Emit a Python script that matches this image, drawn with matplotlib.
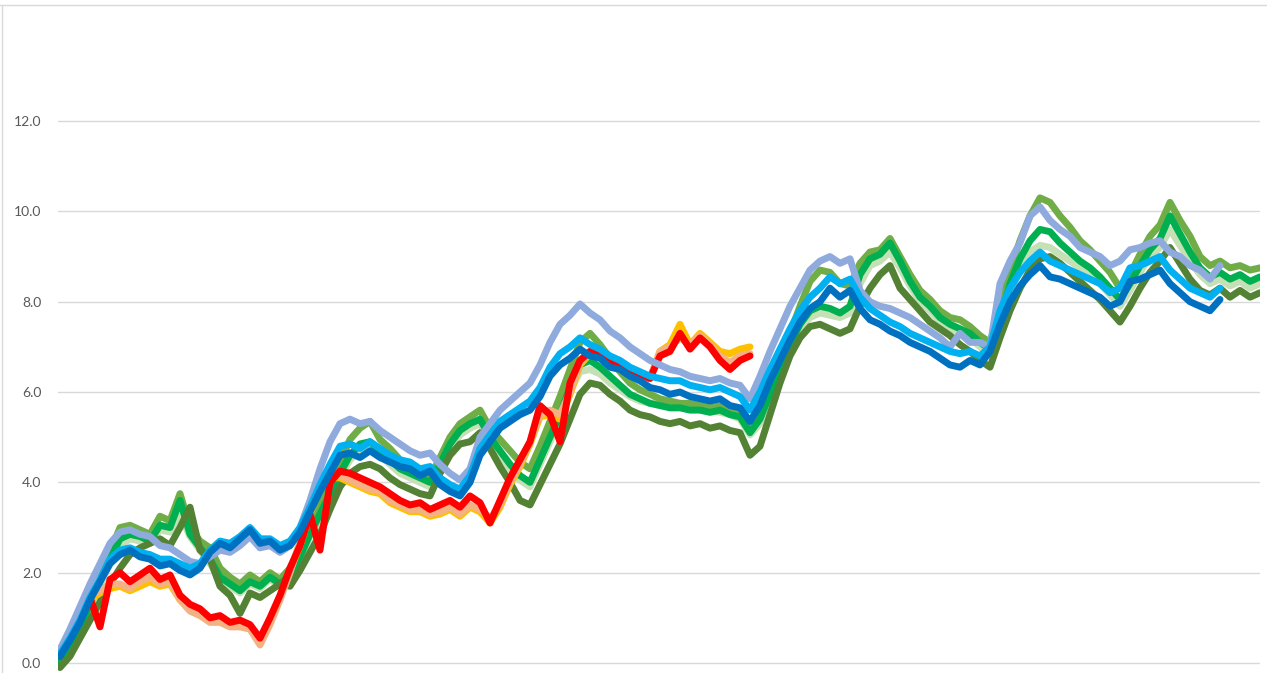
import matplotlib.pyplot as plt
import numpy as np

# values, one sample every 10 px along the time axis
gold = [0.2, 0.6, 1.0, 1.4, 1.55, 1.65, 1.7, 1.6, 1.7, 1.8, 1.7, 1.75, 1.4, 1.2, 1.1, 0.95, 0.95, 0.85, 0.85, 0.8,
        0.5, 0.9, 1.45, 2.05, 2.6, 3.3, 3.9, 4.1, 4.1, 4.0, 3.9, 3.8, 3.75, 3.55, 3.45, 3.35, 3.35, 3.25, 3.3, 3.4,
        3.25, 3.45, 3.35, 3.1, 3.45, 3.95, 4.35, 4.85, 5.45, 5.5, 5.4, 5.95, 6.6, 6.85, 6.75, 6.65, 6.5, 6.45, 6.35, 6.3,
        6.9, 7.05, 7.5, 7.05, 7.3, 7.1, 6.9, 6.85, 6.95, 7.0]
peach = [0.25, 0.65, 1.05, 1.5, 1.6, 1.75, 1.75, 1.65, 1.8, 1.9, 1.75, 1.8, 1.4, 1.15, 1.05, 0.9, 0.9, 0.8, 0.8, 0.75,
         0.4, 0.85, 1.4, 2.0, 2.7, 3.4, 4.0, 4.2, 4.15, 4.05, 3.95, 3.85, 3.8, 3.6, 3.5, 3.4, 3.4, 3.3, 3.35, 3.45,
         3.3, 3.5, 3.4, 3.2, 3.5, 4.0, 4.4, 4.9, 5.5, 5.6, 5.5, 6.0, 6.65, 6.9, 6.8, 6.7, 6.55, 6.45, 6.35, 6.3,
         6.9, 7.0, 7.2, 7.05, 7.25, 7.05, 6.8, 6.65, 6.8, 6.85]
red = [0.15, 0.55, 0.95, 1.45, 0.8, 1.85, 2.0, 1.8, 1.95, 2.1, 1.85, 1.95, 1.5, 1.3, 1.2, 1.0, 1.05, 0.9, 0.95, 0.85,
       0.55, 1.0, 1.5, 2.1, 2.6, 3.3, 2.5, 4.0, 4.25, 4.2, 4.1, 4.0, 3.9, 3.75, 3.6, 3.5, 3.55, 3.4, 3.5, 3.6,
       3.45, 3.7, 3.55, 3.1, 3.6, 4.1, 4.5, 4.9, 5.7, 5.5, 4.9, 6.2, 6.7, 6.9, 6.8, 6.7, 6.6, 6.5, 6.4, 6.3,
       6.8, 6.9, 7.3, 6.95, 7.2, 7.0, 6.7, 6.5, 6.7, 6.8]

light_green = [0.0, 0.35, 0.75, 1.2, 1.7, 2.2, 2.6, 2.75, 2.7, 2.65, 2.95, 2.9, 3.3, 2.8, 2.5, 2.2, 1.85, 1.7, 1.55, 1.75,
               1.65, 1.85, 1.7, 1.9, 2.3, 2.8, 3.2, 3.65, 4.1, 4.5, 4.7, 4.75, 4.6, 4.4, 4.2, 4.1, 4.0, 3.9, 4.3, 4.75,
               5.05, 5.2, 5.3, 4.9, 4.6, 4.3, 4.05, 3.9, 4.4, 4.9, 5.4, 6.0, 6.45, 6.5, 6.4, 6.2, 6.05, 5.9, 5.8, 5.75,
               5.8, 5.7, 5.7, 5.65, 5.6, 5.6, 5.55, 5.5, 5.4, 5.05, 5.3, 5.85, 6.4, 6.95, 7.4, 7.65, 7.75, 7.7, 7.65, 7.75,
               8.4, 8.8, 8.9, 9.1, 8.75, 8.35, 8.0, 7.8, 7.55, 7.4, 7.3, 7.2, 7.0, 6.85, 7.5, 8.2, 8.75, 9.1, 9.25, 9.2,
               9.05, 8.9, 8.75, 8.6, 8.4, 8.15, 7.9, 8.25, 8.65, 9.0, 9.2, 9.6, 9.25, 8.9, 8.6, 8.4, 8.5, 8.35, 8.45, 8.3,
               8.4]
olive = [0.05, 0.4, 0.85, 1.35, 1.85, 2.45, 3.0, 3.05, 2.95, 2.85, 3.25, 3.15, 3.75, 3.0, 2.7, 2.55, 2.1, 1.9, 1.75, 1.95,
         1.8, 2.0, 1.85, 2.1, 2.55, 3.1, 3.55, 4.0, 4.45, 4.95, 5.2, 5.35, 4.95, 4.75, 4.5, 4.35, 4.2, 4.1, 4.55, 5.0,
         5.3, 5.45, 5.6, 5.2, 4.95, 4.7, 4.45, 4.3, 4.8, 5.35, 5.9, 6.5, 7.1, 7.3, 7.05, 6.75, 6.45, 6.2, 6.05, 5.95,
         5.85, 5.8, 5.75, 5.75, 5.7, 5.65, 5.7, 5.6, 5.55, 5.3, 5.6, 6.1, 6.7, 7.3, 7.9, 8.45, 8.7, 8.65, 8.4, 8.35,
         8.85, 9.1, 9.15, 9.4, 9.0, 8.6, 8.25, 8.05, 7.8, 7.65, 7.6, 7.45, 7.25, 7.1, 7.8, 8.7, 9.35, 9.9, 10.3, 10.2,
         9.9, 9.65, 9.35, 9.15, 8.9, 8.65, 8.3, 8.6, 9.05, 9.45, 9.7, 10.2, 9.8, 9.45, 9.0, 8.8, 8.9, 8.75, 8.8, 8.7,
         8.75]
green = [0.0, 0.35, 0.8, 1.3, 1.8, 2.3, 2.75, 2.85, 2.8, 2.7, 3.05, 3.0, 3.6, 2.85, 2.55, 2.3, 1.9, 1.75, 1.6, 1.8,
         1.7, 1.9, 1.75, 1.95, 2.35, 2.85, 3.3, 3.75, 4.2, 4.6, 4.85, 4.9, 4.7, 4.5, 4.3, 4.2, 4.1, 4.0, 4.4, 4.85,
         5.15, 5.3, 5.4, 5.0, 4.7, 4.4, 4.15, 4.0, 4.5, 5.0, 5.5, 6.1, 6.6, 6.7, 6.55, 6.35, 6.15, 5.95, 5.85, 5.75,
         5.7, 5.65, 5.65, 5.6, 5.6, 5.55, 5.6, 5.5, 5.45, 5.1, 5.4, 5.95, 6.5, 7.05, 7.5, 7.8, 7.9, 7.85, 7.75, 7.9,
         8.6, 8.95, 9.05, 9.3, 8.9, 8.45, 8.1, 7.9, 7.65, 7.5, 7.4, 7.3, 7.1, 6.95, 7.6, 8.4, 8.95, 9.35, 9.6, 9.55,
         9.3, 9.1, 8.9, 8.75, 8.55, 8.3, 8.05, 8.4, 8.8, 9.15, 9.4, 9.9, 9.5, 9.1, 8.75, 8.55, 8.65, 8.5, 8.6, 8.45,
         8.55]
dark_green = [-0.1, 0.15, 0.55, 0.95, 1.35, 1.75, 2.1, 2.4, 2.55, 2.65, 2.75, 2.6, 3.0, 3.45, 2.5, 2.3, 1.7, 1.5, 1.1, 1.55,
              1.45, 1.6, 1.75, 1.7, 2.05, 2.45, 2.85, 3.4, 3.9, 4.2, 4.35, 4.4, 4.3, 4.1, 3.95, 3.85, 3.75, 3.7, 4.2, 4.6,
              4.85, 4.9, 5.1, 4.75, 4.35, 4.0, 3.6, 3.5, 3.95, 4.4, 4.85, 5.4, 5.95, 6.2, 6.15, 5.95, 5.8, 5.6, 5.5, 5.45,
              5.35, 5.3, 5.35, 5.25, 5.3, 5.2, 5.25, 5.15, 5.1, 4.6, 4.8, 5.5, 6.2, 6.8, 7.2, 7.45, 7.5, 7.4, 7.3, 7.4,
              7.9, 8.3, 8.6, 8.8, 8.3, 8.05, 7.8, 7.55, 7.4, 7.25, 7.05, 6.9, 6.7, 6.55, 7.2, 7.8, 8.3, 8.7, 8.95, 9.0,
              8.85, 8.65, 8.45, 8.25, 8.05, 7.8, 7.55, 7.9, 8.3, 8.65, 8.9, 9.2, 8.85, 8.5, 8.25, 8.15, 8.3, 8.1, 8.25, 8.1,
              8.2]

light_blue = [0.3, 0.75, 1.25, 1.75, 2.2, 2.65, 2.9, 2.95, 2.85, 2.8, 2.6, 2.55, 2.4, 2.25, 2.2, 2.35, 2.5, 2.45, 2.6, 2.8,
              2.55, 2.6, 2.45, 2.6, 3.0, 3.6, 4.3, 4.9, 5.3, 5.4, 5.3, 5.35, 5.15, 5.0, 4.85, 4.7, 4.6, 4.65, 4.4, 4.2,
              4.05, 4.3, 5.0, 5.3, 5.6, 5.8, 6.0, 6.2, 6.6, 7.1, 7.5, 7.7, 7.95, 7.75, 7.6, 7.35, 7.2, 7.0, 6.85, 6.7,
              6.6, 6.5, 6.45, 6.35, 6.3, 6.25, 6.3, 6.2, 6.15, 5.85, 6.35, 6.9, 7.4, 7.9, 8.3, 8.7, 8.9, 9.0, 8.85, 8.95,
              8.25, 8.0, 7.9, 7.85, 7.75, 7.65, 7.5, 7.35, 7.2, 7.0, 7.3, 7.1, 7.1, 7.0, 8.4, 8.9, 9.3, 9.9, 10.1, 9.8,
              9.6, 9.45, 9.2, 9.1, 9.0, 8.8, 8.9, 9.15, 9.2, 9.3, 9.35, 9.1, 9.0, 8.8, 8.7, 8.5, 8.8]
sky_blue = [0.2, 0.55, 0.95, 1.45, 1.85, 2.3, 2.5, 2.55, 2.45, 2.4, 2.3, 2.3, 2.2, 2.1, 2.2, 2.5, 2.7, 2.65, 2.8, 3.0,
            2.75, 2.75, 2.6, 2.7, 3.0, 3.45, 3.95, 4.4, 4.8, 4.85, 4.75, 4.9, 4.75, 4.6, 4.5, 4.45, 4.3, 4.35, 4.1, 3.95,
            3.85, 4.15, 4.75, 5.05, 5.35, 5.5, 5.65, 5.8, 6.1, 6.55, 6.85, 7.0, 7.2, 7.05, 6.95, 6.8, 6.7, 6.55, 6.45, 6.35,
            6.3, 6.25, 6.25, 6.15, 6.1, 6.05, 6.1, 6.0, 5.9, 5.6, 6.0, 6.5, 6.95, 7.4, 7.8, 8.1, 8.3, 8.55, 8.4, 8.5,
            8.1, 7.85, 7.7, 7.55, 7.45, 7.3, 7.2, 7.1, 7.0, 6.9, 6.85, 6.9, 6.8, 7.0, 7.8, 8.3, 8.65, 8.9, 9.1, 8.9,
            8.8, 8.7, 8.6, 8.5, 8.4, 8.2, 8.3, 8.75, 8.8, 8.9, 9.0, 8.7, 8.5, 8.3, 8.2, 8.1, 8.3]
blue = [0.15, 0.5, 0.9, 1.4, 1.8, 2.2, 2.4, 2.5, 2.35, 2.3, 2.15, 2.2, 2.05, 1.95, 2.1, 2.45, 2.65, 2.55, 2.75, 2.95,
        2.65, 2.7, 2.5, 2.6, 2.9, 3.35, 3.8, 4.2, 4.6, 4.65, 4.55, 4.7, 4.55, 4.45, 4.35, 4.3, 4.15, 4.25, 3.95, 3.8,
        3.7, 4.0, 4.6, 4.9, 5.2, 5.35, 5.5, 5.6, 5.9, 6.35, 6.6, 6.75, 6.95, 6.8, 6.75, 6.55, 6.5, 6.35, 6.25, 6.1,
        6.05, 5.95, 6.0, 5.9, 5.85, 5.8, 5.85, 5.7, 5.65, 5.35, 5.7, 6.25, 6.7, 7.15, 7.55, 7.85, 8.0, 8.3, 8.1, 8.25,
        7.85, 7.6, 7.5, 7.35, 7.25, 7.1, 7.0, 6.9, 6.75, 6.6, 6.55, 6.7, 6.6, 6.9, 7.5, 8.0, 8.35, 8.6, 8.8, 8.55,
        8.5, 8.4, 8.3, 8.2, 8.1, 7.9, 8.0, 8.45, 8.5, 8.6, 8.7, 8.4, 8.2, 8.0, 7.9, 7.8, 8.05]

yticks = [0, 2, 4, 6, 8, 10, 12]

# drawing order as in the workbook: greens, then the red group, blues on top
series = [
    (light_green, "#C5E0B4"),
    (olive, "#70AD47"),
    (green, "#00B050"),
    (dark_green, "#548235"),
    (gold, "#FFC000"),
    (peach, "#F4B183"),
    (red, "#FF0000"),
    (light_blue, "#8FAADC"),
    (sky_blue, "#00B0F0"),
    (blue, "#0070C0"),
]

W, H = 1267, 673
fig = plt.figure(figsize=(W / 100, H / 100), dpi=100)
ax = fig.add_axes([58 / W, 0, 1202 / W, 668 / H])

for vals, col in series:
    ax.plot(np.arange(len(vals)), vals, color=col, linewidth=5.0,
            solid_joinstyle="round", solid_capstyle="round")

ax.set_xlim(-0.2, 120)
ax.set_ylim(-0.221, 14.57)
ax.set_yticks(yticks)
ax.set_yticklabels(["%.1f" % v for v in yticks])
ax.set_xticks([])
ax.grid(axis="y", color="#D9D9D9", linewidth=1.0)
ax.set_axisbelow(True)
for s in ax.spines.values():
    s.set_visible(False)
ax.tick_params(axis="y", length=0, pad=12, labelsize=10, labelcolor="#595959")
for lab in ax.get_yticklabels():
    lab.set_family("Lato")

# chart area border (top and left edges are visible in the crop)
fig.add_artist(plt.Line2D([0, 1], [1 - 4.5 / H, 1 - 4.5 / H], color="#D9D9D9", linewidth=1.0))
fig.add_artist(plt.Line2D([1.5 / W, 1.5 / W], [0, 1 - 4.5 / H], color="#D9D9D9", linewidth=1.0))

fig.savefig("out.png", dpi=100)
